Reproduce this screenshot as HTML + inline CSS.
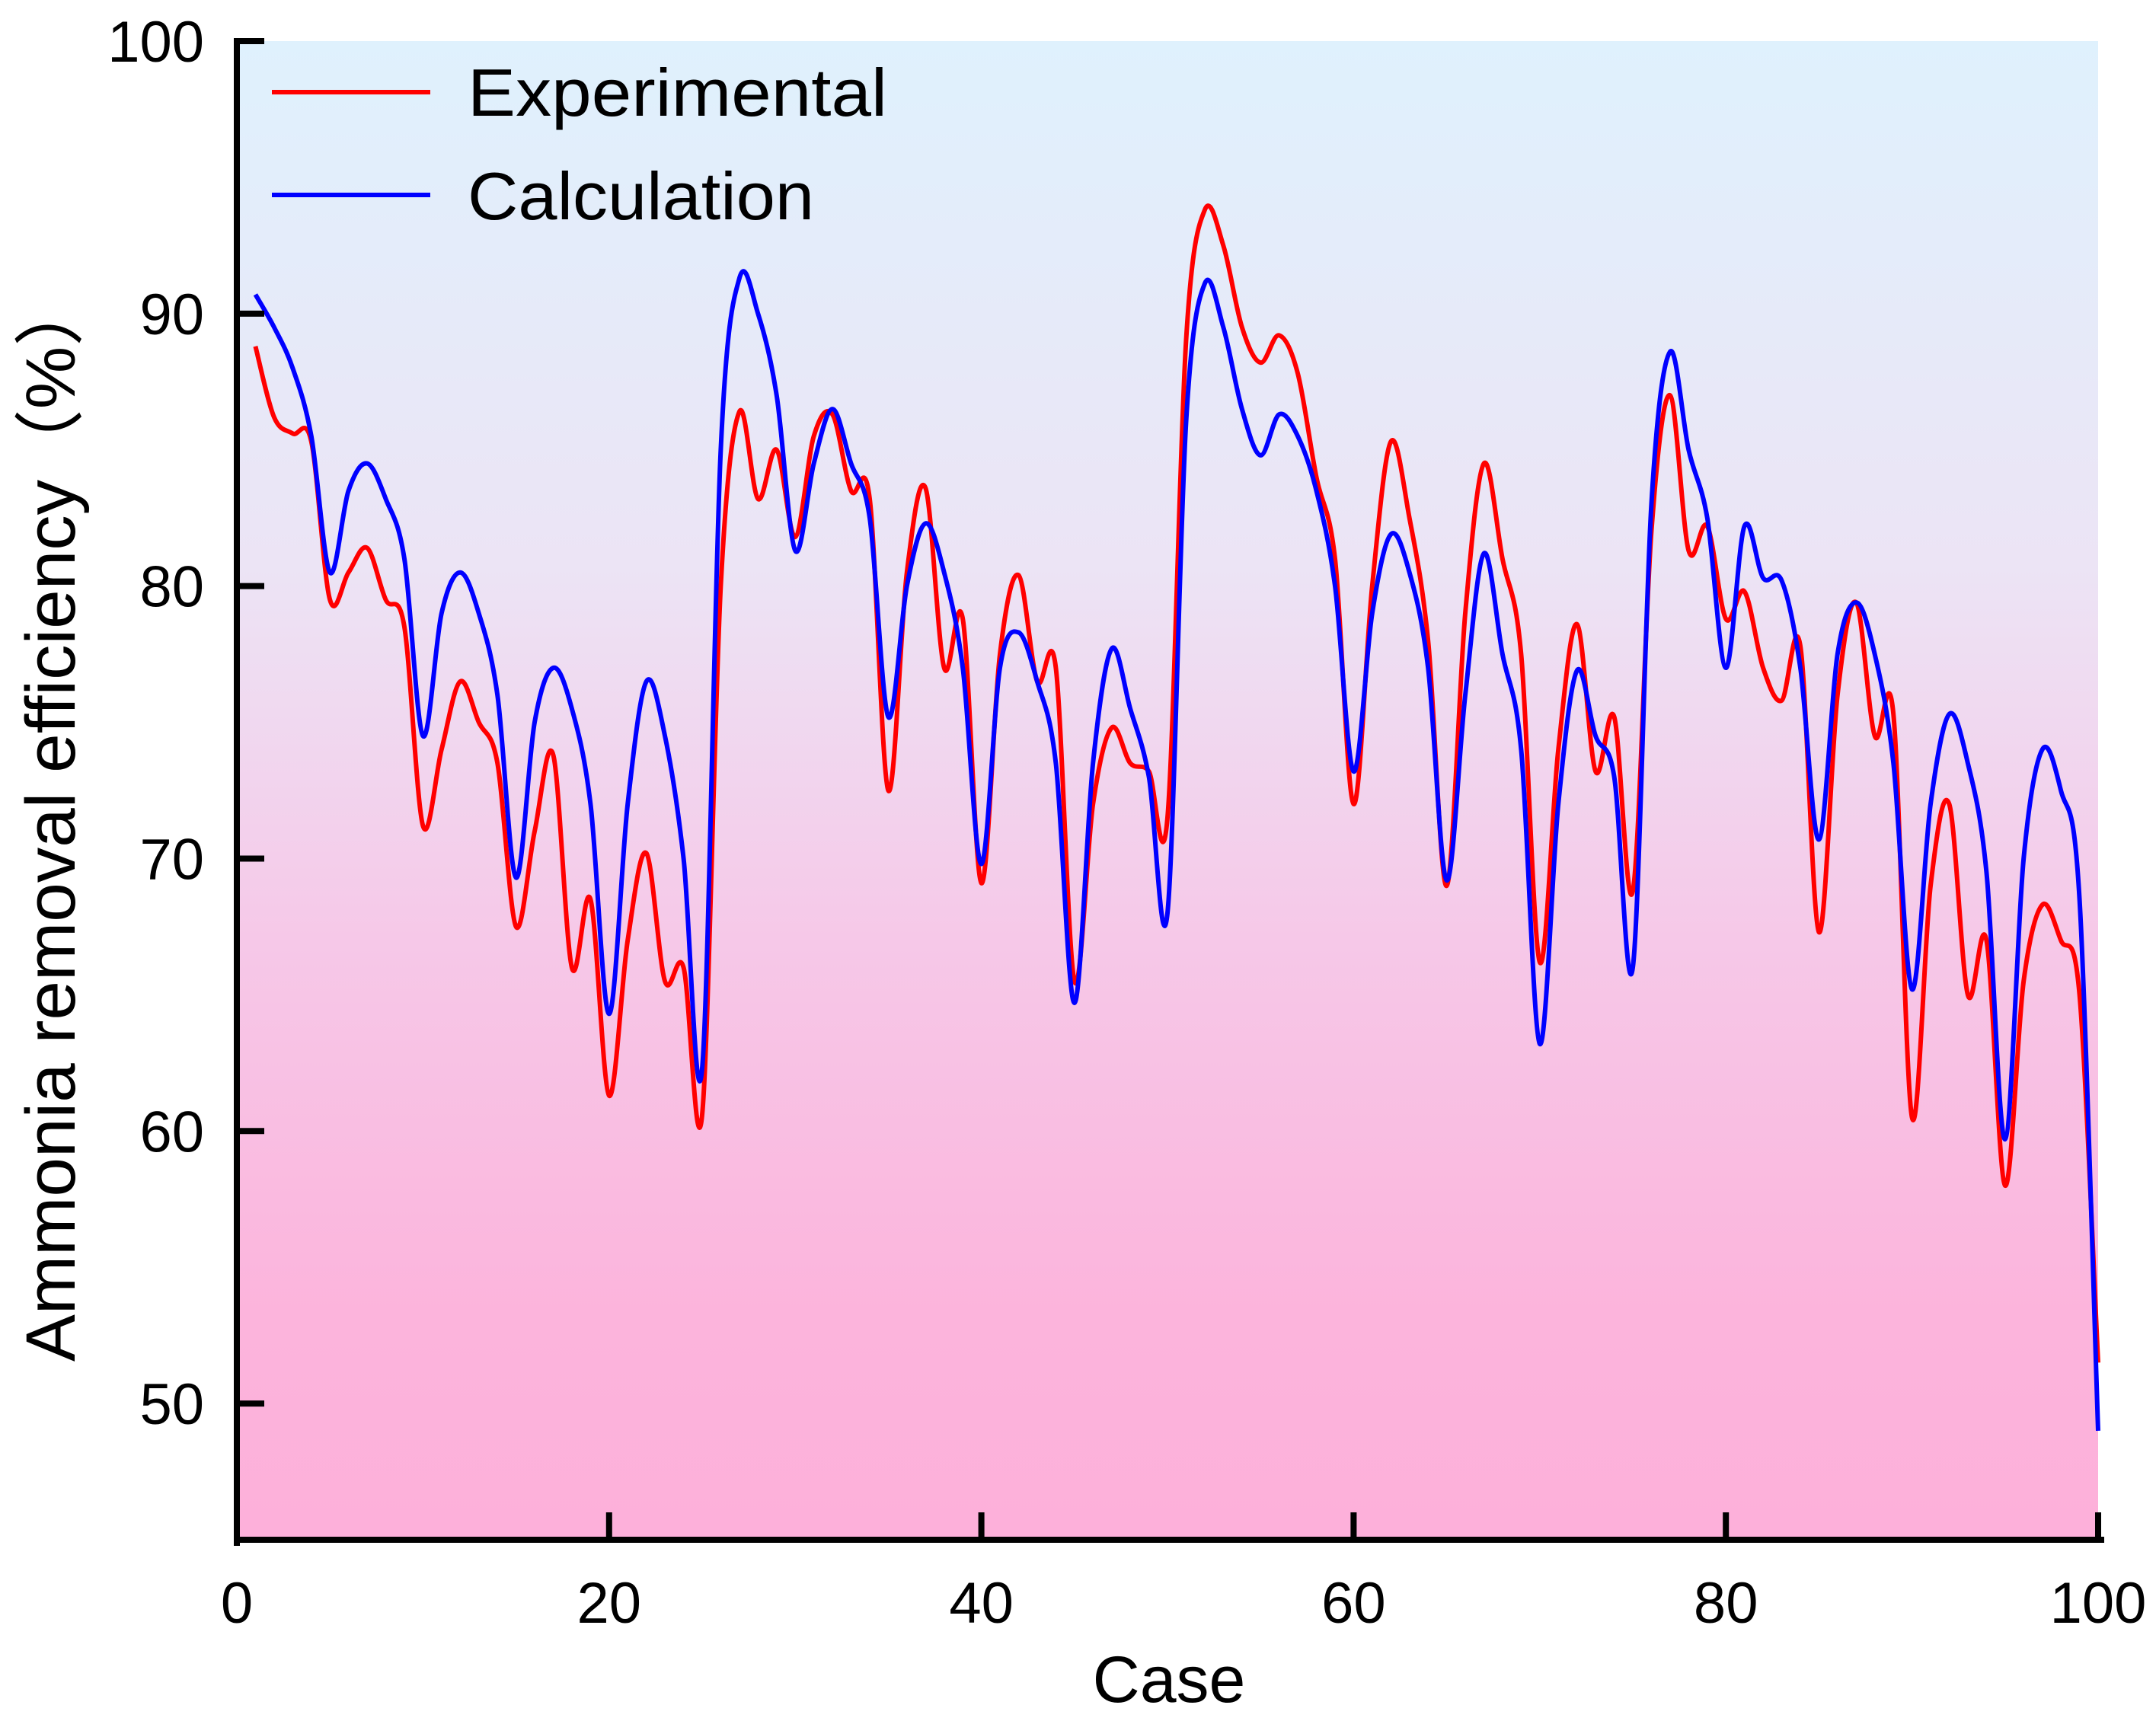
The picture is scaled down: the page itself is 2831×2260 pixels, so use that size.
<!DOCTYPE html>
<html><head><meta charset="utf-8"><style>
html,body{margin:0;padding:0;background:#fff;}
svg{display:block;font-family:"Liberation Sans",sans-serif;}
</style></head><body>
<svg id="chart" width="2831" height="2260" viewBox="0 0 2831 2260" xmlns="http://www.w3.org/2000/svg">
<defs>
<linearGradient id="bg" x1="0" y1="0" x2="0" y2="1">
<stop offset="0" stop-color="#dff1fd"/>
<stop offset="0.35" stop-color="#ece4f5"/>
<stop offset="0.6" stop-color="#f6c8e8"/>
<stop offset="0.85" stop-color="#fcb4dc"/>
<stop offset="1" stop-color="#fdb0da"/>
</linearGradient>
</defs>
<rect x="311" y="54" width="2444" height="1968" fill="url(#bg)"/>
<g id="series"></g>
<g id="axes"></g>
<g>
<line x1="357" y1="121" x2="565" y2="121" stroke="#ff0000" stroke-width="6"/>
<text x="614" y="152" font-size="88" textLength="551" lengthAdjust="spacingAndGlyphs">Experimental</text>
<line x1="357" y1="256" x2="565" y2="256" stroke="#0000ff" stroke-width="6"/>
<text x="614" y="288" font-size="88" textLength="455" lengthAdjust="spacingAndGlyphs">Calculation</text>
</g>
<text x="1535" y="2235" font-size="86" text-anchor="middle">Case</text>
<text transform="translate(98,1075) rotate(-90)" font-size="92" text-anchor="middle" textLength="1426" lengthAdjust="spacingAndGlyphs">Ammonia removal efficiency（%）</text>
</svg>
<script>
const experimental = [88.8,86.2,85.6,85.3,79.5,80.5,81.4,79.5,78.5,71.2,74,76.5,75,73.5,67.5,71,73.8,66,68.5,61.3,67,70.2,65.5,66,60.6,80,86.4,83.2,85.0,81.8,85.5,86.3,83.5,83.2,72.5,80.5,83.6,77,78.8,69.1,77.5,80.4,76.5,77,65.5,72,74.8,73.5,73.2,71.5,89,93.8,92.5,89.5,88.2,89.2,87.8,84,81,72,80,85.3,82.5,78,69,79,84.5,81,77.5,66.2,74,78.6,73.2,75.2,68.8,82,87,81.3,82.2,78.8,79.8,77,75.8,77.8,67.3,76,79.4,74.5,75.3,60.5,69,72,65,67,58,65.5,68.3,67,65,51.5];
const calculation = [90.7,89.5,88,85.5,80.5,83.5,84.5,83.2,81,74.5,79,80.5,79,76,69.3,75,77,75.5,72,64.3,72,76.5,74.5,70,62.3,85,91.3,90,87,81.3,84.5,86.5,84.5,82.5,75.2,80,82.3,80.5,77,69.8,77,78.3,76.5,73.5,64.7,73.5,77.7,75.5,73,68,86,91.1,89.5,86.5,84.8,86.3,85.5,83.5,80,73.2,79,81.9,80.5,77,69.2,76,81.2,77.5,74,63.2,72,76.9,74.5,73,66,83,88.6,85,82.5,77,82.2,80.3,80.2,77,70.7,77.5,79.4,77.5,73.5,65.2,72,75.3,73.5,69.5,59.7,70,74,72.5,68.5,49];
const xTicks = [0,20,40,60,80,100];
const yTicks = [50,60,70,80,90,100];

const X0=311,X1=2755,Y0=2022,Y1=54, XMIN=0,XMAX=100,YMIN=45,YMAX=100;
function xs(v){return X0+(v-XMIN)/(XMAX-XMIN)*(X1-X0);}
function ys(v){return Y0-(v-YMIN)/(YMAX-YMIN)*(Y0-Y1);}
const NS="http://www.w3.org/2000/svg";
function pathFor(vals){
  const p=vals.map((v,i)=>[xs(i+1),ys(v)]);
  let d="M"+p[0][0].toFixed(1)+","+p[0][1].toFixed(1);
  for(let i=0;i<p.length-1;i++){
    const a=p[Math.max(i-1,0)],b=p[i],c=p[i+1],e=p[Math.min(i+2,p.length-1)];
    const c1=[b[0]+(c[0]-a[0])/6,b[1]+(c[1]-a[1])/6];
    const c2=[c[0]-(e[0]-b[0])/6,c[1]-(e[1]-b[1])/6];
    d+=" C"+c1[0].toFixed(1)+","+c1[1].toFixed(1)+" "+c2[0].toFixed(1)+","+c2[1].toFixed(1)+" "+c[0].toFixed(1)+","+c[1].toFixed(1);
  }
  return d;
}
const sg=document.getElementById("series");
const pe=document.createElementNS(NS,"path");


pe.setAttribute("d",pathFor(experimental));pe.setAttribute("fill","none");pe.setAttribute("stroke","#ff0000");pe.setAttribute("stroke-width","6");
sg.appendChild(pe);
const pc=document.createElementNS(NS,"path");


pc.setAttribute("d",pathFor(calculation));pc.setAttribute("fill","none");pc.setAttribute("stroke","#0000ff");pc.setAttribute("stroke-width","6");
sg.appendChild(pc);

const ag=document.getElementById("axes");
function ln(x1,y1,x2,y2,name){
  const l=document.createElementNS(NS,"line");
  
  
  l.setAttribute("x1",x1);l.setAttribute("y1",y1);l.setAttribute("x2",x2);l.setAttribute("y2",y2);
  l.setAttribute("stroke","#000");l.setAttribute("stroke-width","8");l.setAttribute("stroke-linecap","square");
  ag.appendChild(l);
}
ln(X0,Y1,X0,Y0+4,"y-axis-line");
ln(X0,Y0,X1+4,Y0,"x-axis-line");
yTicks.forEach(t=>{
  ln(X0,ys(t),X0+32,ys(t),"y-tick");
  const tx=document.createElementNS(NS,"text");
  
  
  tx.setAttribute("x",268);tx.setAttribute("y",ys(t)+27);tx.setAttribute("font-size","76");tx.setAttribute("text-anchor","end");
  tx.textContent=t;ag.appendChild(tx);
});
xTicks.forEach(t=>{
  ln(xs(t),Y0,xs(t),Y0-32,"x-tick");
  const tx=document.createElementNS(NS,"text");
  
  
  tx.setAttribute("x",xs(t));tx.setAttribute("y",2131);tx.setAttribute("font-size","76");tx.setAttribute("text-anchor","middle");
  tx.textContent=t;ag.appendChild(tx);
});
</script>
</body></html>
